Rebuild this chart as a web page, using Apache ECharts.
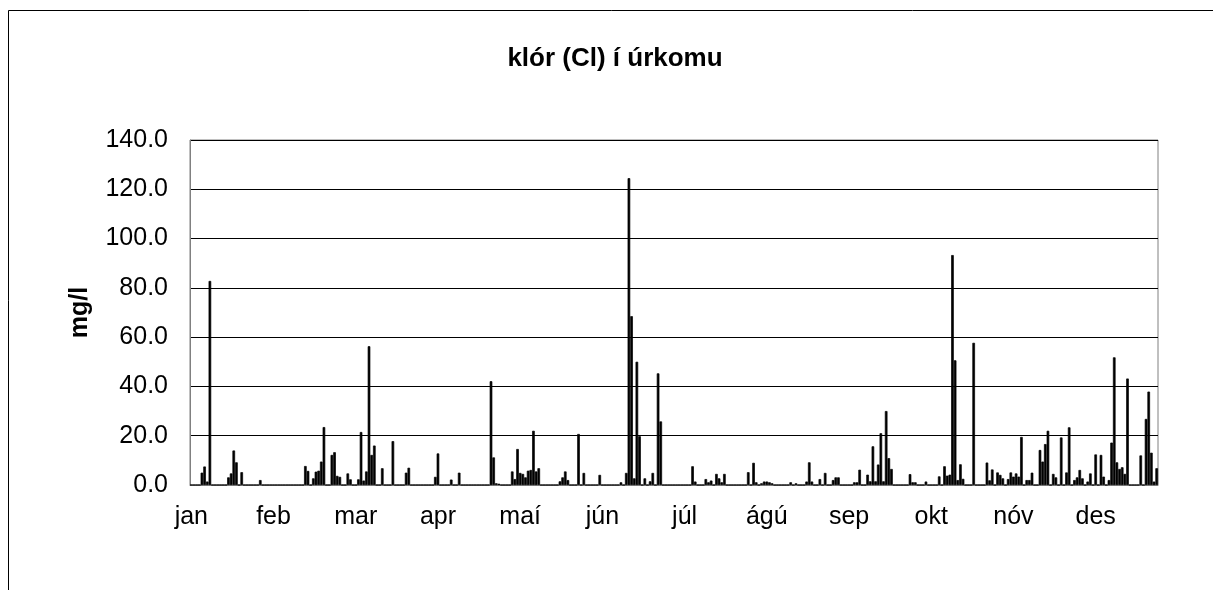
<!DOCTYPE html>
<html>
<head>
<meta charset="utf-8">
<script src="https://cdn.jsdelivr.net/npm/echarts@6/dist/echarts.min.js"></script>
<style>
html,body{margin:0;padding:0;background:#fff;}
#chart{width:1213px;height:590px;}
</style>
</head>
<body>
<div id="chart"></div>
<script>
// Tick labels (month names shown every 31 categories)
const monthLabels = ['jan','feb','mar','apr','maí','jún','júl','ágú','sep','okt','nóv','des'];
const yTicks = [0, 20, 40, 60, 80, 100, 120, 140];

// Daily chloride in precipitation (mg/l), 365 days
const values = [
  0,0,0,0,5,7.5,1.4,82.8,0,0,
  0,0,0,0,3.1,4.7,14,9.2,0,5.2,
  0,0,0,0,0,0,2,0,0,0,
  0,0,0,0,0,0,0,0,0,0,
  0,0,0,7.7,5.7,0,2.7,5.4,5.8,9.5,
  23.5,0,0,12.2,13.3,3.7,3.3,0,0,4.7,
  2.3,0,0,2.3,21.5,1.8,5.5,56.3,12.2,16,
  0,0,6.8,0,0,0,17.8,0,0,0,
  0,5,7,0,0,0,0,0,0,0,
  0,0,3.3,12.8,0,0,0,0,2.2,0,
  0,5,0,0,0,0,0,0,0,0,
  0,0,0,42.1,11.2,0.7,0.5,0,0,0,
  0,5.5,2.4,14.6,4.9,4.5,3.1,5.8,6.1,22,
  5.5,6.8,0,0,0,0,0,0,0,1.5,
  3.1,5.5,2,0,0,0,20.7,0,4.9,0,
  0,0,0,0,4.1,0,0,0,0,0,
  0,0,1.1,0,4.9,124.5,68.5,2.7,50,19.8,
  0,2.7,0,1.5,4.9,0,45.3,25.8,0,0,
  0,0,0,0,0,0,0,0,0,7.6,
  1.4,0,0,0,2.4,1.1,1.8,0,4.5,2.7,
  1.1,4.5,0,0,0,0,0,0,0,0,
  5.2,0,9,1.1,0,0.7,1.4,1.4,1.1,0.7,
  0,0,0,0,0,0,1.1,0,0.7,0,
  0,0,1.4,9.2,1.4,0,0,2.4,0,4.9,
  0,0,2,3.1,3.1,0,0,0,0,0,
  1.1,1.1,6.2,0,0,4.2,1.5,15.7,1.5,8.3,
  21,1.5,30,10.9,6.5,0,0,0,0,0,
  0,4.4,1.1,1.1,0,0,0,1.4,0,0,
  0,0,3.5,0,7.6,3.8,4.2,93.3,50.6,2,
  8.4,2.5,0,0,0,57.7,0,0,0,0,
  9.1,1.9,6.3,0,5.1,4.1,2.7,0,2.4,5.1,
  3.4,4.7,3.4,19.5,0,2,2,5,0,0,
  14.2,9.5,16.6,22,0,4.5,3.1,0,19.3,0,
  5.1,23.4,0,2,3.1,6.1,2.7,0,1.4,4.7,
  0,12.4,0,12.2,3.4,0,2,17.2,51.8,9.2,
  6.5,7.2,4.5,43.2,0,0,0,0,12,0,
  26.8,37.9,13.1,1.4,6.8
];

// Categories: day index 1..365
const categories = values.map((_, i) => String(i + 1));

const FONT = '"Liberation Sans", Arial, sans-serif';
const chart = echarts.init(document.getElementById('chart'), null, {renderer: 'canvas'});
chart.setOption({
  animation: false,
  backgroundColor: '#ffffff',
  graphic: [{
    type: 'rect',
    shape: {x: 8.5, y: 10.5, width: 1400, height: 800},
    style: {fill: 'none', stroke: '#000', lineWidth: 1},
    silent: true
  }],
  title: {
    text: 'klór (Cl) í úrkomu',
    left: 610,
    top: 41,
    textAlign: 'center',
    textStyle: {fontFamily: FONT, fontSize: 26, fontWeight: 'bold', color: '#000'}
  },
  grid: {left: 190, right: 55, top: 140, bottom: 105, show: true, borderColor: '#808080', borderWidth: 1, backgroundColor: 'transparent'},
  xAxis: {
    type: 'category',
    data: categories,
    axisTick: {show: false},
    axisLine: {lineStyle: {color: '#808080', width: 1}},
    axisLabel: {
      interval: 30,
      margin: 20,
      fontFamily: FONT,
      fontSize: 25,
      color: '#000',
      formatter: function (v, i) { return (i % 31 === 0) ? (monthLabels[i / 31] || '') : ''; }
    },
    splitLine: {show: false}
  },
  yAxis: {
    type: 'value',
    min: yTicks[0],
    max: yTicks[yTicks.length - 1],
    interval: yTicks[1] - yTicks[0],
    name: 'mg/l',
    nameLocation: 'middle',
    nameRotate: 90,
    nameGap: 97,
    nameTextStyle: {fontFamily: FONT, fontSize: 25, fontWeight: 'bold', color: '#000'},
    axisLine: {show: true, lineStyle: {color: '#808080', width: 1}},
    axisTick: {show: false},
    splitLine: {show: true, lineStyle: {color: '#000', width: 1}},
    axisLabel: {
      margin: 22,
      fontFamily: FONT,
      fontSize: 25,
      color: '#000',
      formatter: function (v) { return v.toFixed(1); }
    }
  },
  series: [{
    type: 'bar',
    data: values,
    barWidth: 2.6,
    itemStyle: {color: '#000', borderColor: '#000', borderWidth: 0.7},
    emphasis: {disabled: true}
  }]
});
</script>
</body>
</html>
